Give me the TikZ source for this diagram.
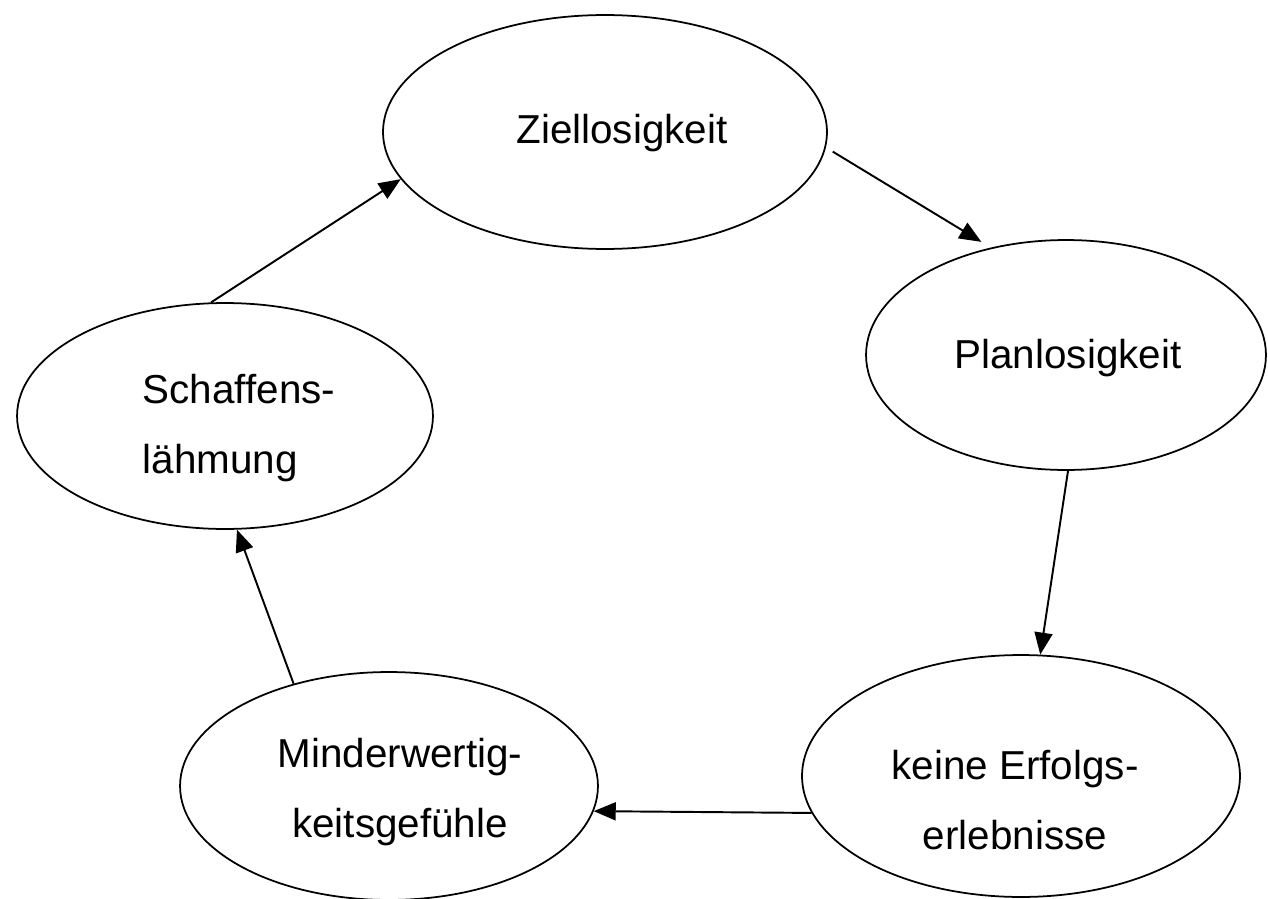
\documentclass[tikz,border=0pt]{standalone}
\usepackage{fontspec}
\setmainfont{Liberation Sans}
\usetikzlibrary{shapes.geometric,arrows.meta}

\begin{document}
\begin{tikzpicture}[x = 0.02cm, y = -0.02cm,
  zustand/.style = {ellipse, draw, line width = 1pt, inner sep = 0pt},
  beschr/.style = {font = \fontsize{23}{40}\selectfont, align = center, inner sep = 0pt},
  pfeil/.style = {line width = 1.1pt, -{Triangle[length = 0.44cm, width = 0.36cm]}}]
\useasboundingbox (0,0) rectangle (1268,899);
% the five states of the circle
\node [zustand, minimum width = 8.88cm, minimum height = 4.68cm] (ziel) at (605,132) {};
\node [zustand, minimum width = 8.0cm, minimum height = 4.6cm] (plan) at (1066,355) {};
\node [zustand, minimum width = 8.76cm, minimum height = 4.84cm] (keine) at (1021,776) {};
\node [zustand, minimum width = 8.36cm, minimum height = 4.56cm] (minder) at (389,786) {};
\node [zustand, minimum width = 8.32cm, minimum height = 4.52cm] (schaff) at (225,416) {};
\node [beschr] (ziel-t) at (622,133) {Ziellosigkeit};
\node [beschr] (plan-t) at (1068,358) {Planlosigkeit};
\node [beschr] (keine-t) at (1015,800) {keine Erfolgs-\\erlebnisse};
\node [beschr] (minder-t) at (400,792) {Minderwertig-\\keitsgefühle};
\node [beschr, align = left] (schaff-t) at (239,428) {Schaffens-\\lähmung};
% arrows round the circle
\draw [pfeil, shorten <= 0.16cm, shorten >= 0.22cm] (ziel.-4) -- (plan.125);
\draw [pfeil] (plan.-89) -- (keine.81);
\draw [pfeil] (keine.190) -- (minder.-7.6);
\draw [pfeil] (minder.133) -- (schaff.-84);
\draw [pfeil] (schaff.97) -- (ziel.193);
\end{tikzpicture}
\end{document}
